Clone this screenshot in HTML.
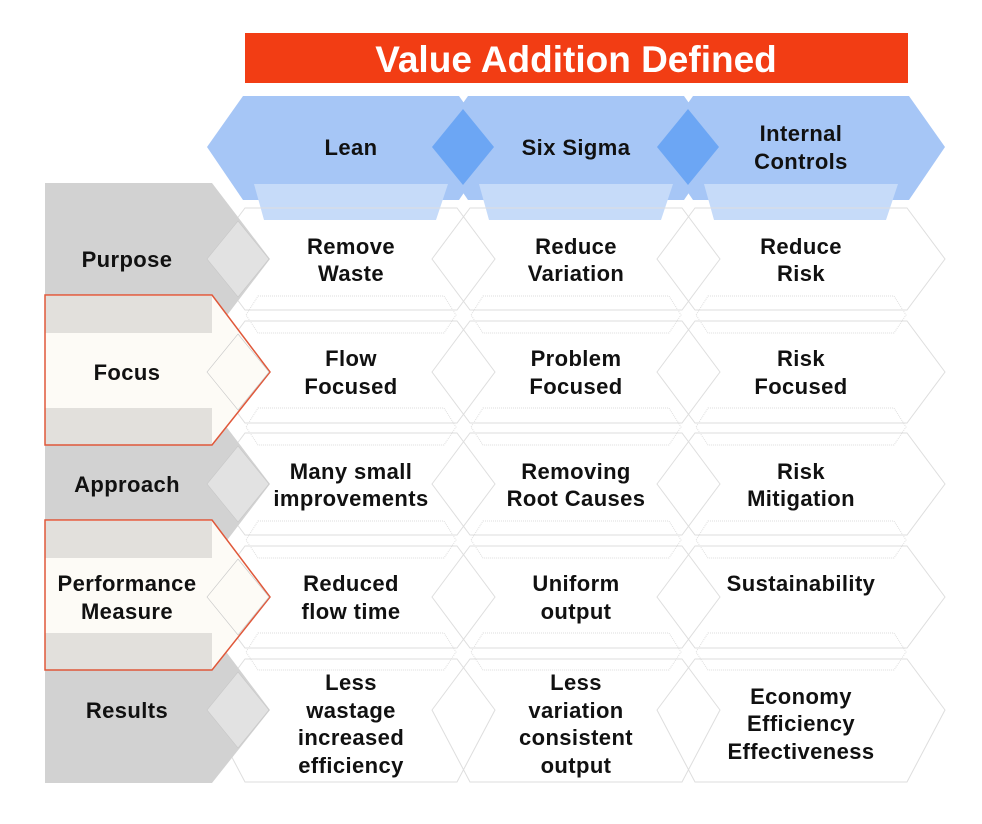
<!DOCTYPE html>
<html><head><meta charset="utf-8"><style>
html,body{margin:0;padding:0;background:#fff}
svg{display:block}
text{font-family:"Liberation Sans",Arial,sans-serif;font-weight:bold;fill:#111;text-anchor:middle}
</style></head><body>
<svg width="982" height="824" viewBox="0 0 982 824" xmlns="http://www.w3.org/2000/svg">
<rect x="245" y="33" width="663" height="50" fill="#f23d14"/>
<text x="576" y="72" font-size="37" style="fill:#fff">Value Addition Defined</text>

<!-- header hexes -->
<g fill="#a6c6f6">
<polygon points="243,96 459,96 495,147 459,200 243,200 207,147"/>
<polygon points="468,96 684,96 720,147 684,200 468,200 432,147"/>
<polygon points="693,96 909,96 945,147 909,200 693,200 657,147"/>
</g>
<g fill="#c6dbf9">
<polygon points="254,184 448,184 436,220 264,220"/>
<polygon points="479,184 673,184 661,220 489,220"/>
<polygon points="704,184 898,184 886,220 714,220"/>
</g>
<g fill="#6ca6f4">
<polygon points="463,109 494,147 463,185 432,147"/>
<polygon points="688,109 719,147 688,185 657,147"/>
</g>
<g font-size="22" letter-spacing="0.4">
<text x="351" y="155">Lean</text>
<text x="576" y="155">Six Sigma</text>
<text x="801" y="141">Internal</text>
<text x="801" y="169">Controls</text>
</g>

<!-- grid faint outlines -->
<g fill="none" stroke="#dedede" stroke-width="1">
<g id="col">
<polygon points="207,259 245,208 457,208 495,259 457,310 245,310"/>
<polygon points="207,372 245,321 457,321 495,372 457,423 245,423"/>
<polygon points="207,484 245,433 457,433 495,484 457,535 245,535"/>
<polygon points="207,597 245,546 457,546 495,597 457,648 245,648"/>
<polygon points="207,710 245,659 457,659 495,710 457,782 245,782"/>
<polygon points="258,296 444,296 456,315 444,333 258,333 246,315" stroke-dasharray="1,1"/>
<polygon points="258,408 444,408 456,427 444,445 258,445 246,427" stroke-dasharray="1,1"/>
<polygon points="258,521 444,521 456,540 444,558 258,558 246,540" stroke-dasharray="1,1"/>
<polygon points="258,633 444,633 456,652 444,670 258,670 246,652" stroke-dasharray="1,1"/>
</g>
<use href="#col" x="225"/>
<use href="#col" x="450"/>
</g>

<!-- left row labels -->
<g fill="#d2d2d2">
<polygon points="45,183 212,183 270,259 212,335 45,335"/>
<polygon points="45,408 212,408 270,484 212,560 45,560"/>
<polygon points="45,633 212,633 270,710 212,783 45,783"/>
</g>
<g>
<polygon points="45,295 212,295 270,372 212,445 45,445" fill="#fdfbf6"/>
<rect x="45" y="296" width="167" height="37" fill="#e2e0dc"/>
<rect x="45" y="408" width="167" height="37" fill="#e2e0dc"/>
<polygon points="45,295 212,295 270,372 212,445 45,445" fill="none" stroke="#e0583a" stroke-width="1.5"/>
<polygon points="45,520 212,520 270,597 212,670 45,670" fill="#fdfbf6"/>
<rect x="45" y="521" width="167" height="37" fill="#e2e0dc"/>
<rect x="45" y="633" width="167" height="37" fill="#e2e0dc"/>
<polygon points="45,520 212,520 270,597 212,670 45,670" fill="none" stroke="#e0583a" stroke-width="1.5"/>
</g>
<g fill="#e2e2e2" stroke="#c8c8c8" stroke-width="0.6">
<polygon points="238,221 269,259 238,297 207,259"/>
<polygon points="238,446 269,484 238,522 207,484"/>
<polygon points="238,672 269,710 238,748 207,710"/>
</g>
<g fill="none" stroke="#c8c8c8" stroke-width="0.6">
<polygon points="238,334 269,372 238,410 207,372"/>
<polygon points="238,559 269,597 238,635 207,597"/>
</g>

<g font-size="22" letter-spacing="0.4">
<text x="127" y="267">Purpose</text>
<text x="127" y="380">Focus</text>
<text x="127" y="492">Approach</text>
<text x="127" y="591">Performance</text>
<text x="127" y="619">Measure</text>
<text x="127" y="718">Results</text>

<text x="351" y="254">Remove</text><text x="351" y="281">Waste</text>
<text x="576" y="254">Reduce</text><text x="576" y="281">Variation</text>
<text x="801" y="254">Reduce</text><text x="801" y="281">Risk</text>

<text x="351" y="366">Flow</text><text x="351" y="394">Focused</text>
<text x="576" y="366">Problem</text><text x="576" y="394">Focused</text>
<text x="801" y="366">Risk</text><text x="801" y="394">Focused</text>

<text x="351" y="479">Many small</text><text x="351" y="506">improvements</text>
<text x="576" y="479">Removing</text><text x="576" y="506">Root Causes</text>
<text x="801" y="479">Risk</text><text x="801" y="506">Mitigation</text>

<text x="351" y="591">Reduced</text><text x="351" y="619">flow time</text>
<text x="576" y="591">Uniform</text><text x="576" y="619">output</text>
<text x="801" y="591">Sustainability</text>

<text x="351" y="690">Less</text><text x="351" y="718">wastage</text><text x="351" y="745">increased</text><text x="351" y="773">efficiency</text>
<text x="576" y="690">Less</text><text x="576" y="718">variation</text><text x="576" y="745">consistent</text><text x="576" y="773">output</text>
<text x="801" y="704">Economy</text><text x="801" y="731">Efficiency</text><text x="801" y="759">Effectiveness</text>
</g>
</svg>
</body></html>
